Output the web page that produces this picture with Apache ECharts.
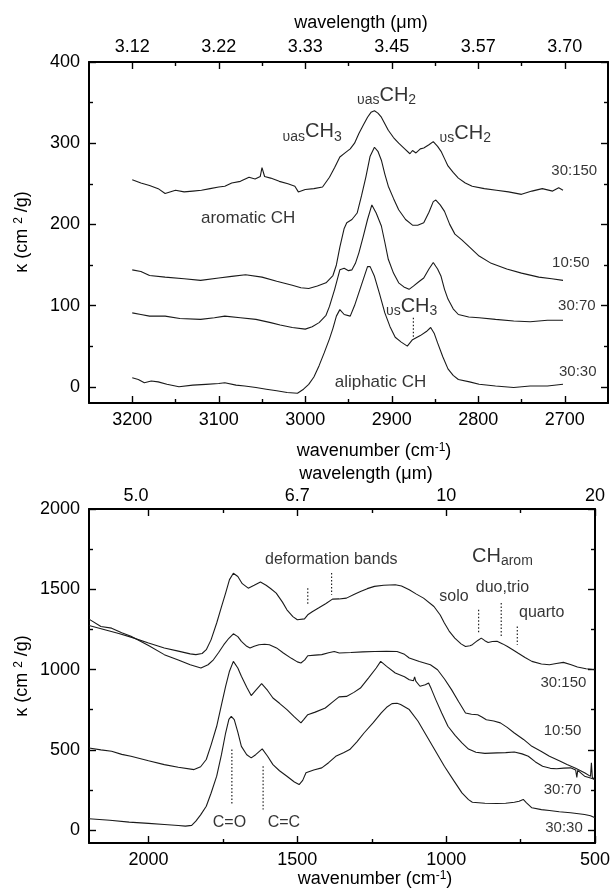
<!DOCTYPE html>
<html><head><meta charset="utf-8">
<script src="https://cdn.jsdelivr.net/npm/echarts@6/dist/echarts.min.js"></script>
<style>html,body{margin:0;padding:0;background:#fff}#c{width:613px;height:889px}</style>
</head><body><div id="c"></div>
<script>
// ---------------- DATA ----------------
// Top panel: wavenumber (cm-1) vs kappa (cm2/g)
const top_30_150 = [[3200,255],[3190,251],[3180,248],[3170,244],[3162,238],[3150,242],[3140,240],[3130,241],[3120,242],[3110,244],[3100,246],[3093,247],[3085,251],[3075,253],[3065,258],[3058,256],[3052,259],[3050,270],[3047,259],[3040,257],[3030,253],[3020,250],[3012,247],[3008,240],[3000,243],[2990,244],[2980,246],[2972,258],[2966,270],[2960,283],[2954,288],[2948,293],[2943,300],[2938,312],[2933,322],[2928,332],[2924,338],[2920,340],[2916,337],[2912,332],[2904,316],[2898,307],[2892,300],[2885,293],[2879,287],[2876,291],[2872,288],[2867,293],[2863,294],[2857,298],[2852,302],[2847,296],[2843,290],[2839,281],[2835,272],[2829,264],[2823,257],[2815,251],[2807,247],[2793,244],[2779,242],[2765,240],[2750,237],[2738,241],[2726,244],[2714,241],[2707,245],[2702,242]];
const top_10_50 = [[3200,144],[3190,142],[3180,137],[3162,135],[3140,133],[3121,131],[3100,134],[3085,136],[3069,138],[3050,135],[3033,130],[3015,125],[3005,122],[2996,121],[2986,124],[2976,128],[2968,137],[2964,150],[2960,172],[2955,195],[2952,202],[2946,206],[2940,214],[2935,235],[2930,258],[2925,284],[2920,295],[2916,290],[2912,279],[2908,262],[2904,247],[2898,232],[2892,218],[2884,206],[2876,199],[2870,199],[2863,202],[2857,215],[2852,228],[2849,230],[2844,224],[2839,216],[2833,200],[2827,188],[2819,181],[2810,172],[2799,161],[2785,152],[2767,145],[2750,140],[2730,135],[2715,133],[2702,131]];
const top_30_70 = [[3200,91],[3190,89],[3180,87],[3162,87],[3145,84],[3121,83],[3105,85],[3093,87],[3075,85],[3057,83],[3040,79],[3029,76],[3015,73],[3000,71],[2992,74],[2984,79],[2976,88],[2972,99],[2966,120],[2960,144],[2955,146],[2950,143],[2946,144],[2942,152],[2938,165],[2933,185],[2928,206],[2923,224],[2918,214],[2912,198],[2908,178],[2904,157],[2898,140],[2892,128],[2886,123],[2880,120],[2875,124],[2868,130],[2863,134],[2857,145],[2852,153],[2847,145],[2843,136],[2839,120],[2835,108],[2829,96],[2823,89],[2811,86],[2799,85],[2780,83],[2759,81],[2740,80],[2720,82],[2702,82]];
const top_30_30 = [[3200,11],[3193,9],[3186,5],[3178,7],[3170,6],[3160,3],[3146,0],[3130,2],[3115,3],[3100,4],[3093,5],[3080,2],[3070,1],[3057,-1],[3045,-3],[3033,-5],[3021,-7],[3009,-8],[3002,-3],[2996,3],[2990,12],[2984,26],[2978,42],[2972,59],[2968,72],[2964,87],[2960,95],[2955,89],[2948,87],[2943,100],[2938,116],[2933,132],[2928,148],[2925,148],[2920,136],[2914,114],[2908,91],[2902,74],[2896,61],[2889,55],[2882,50],[2876,58],[2867,63],[2860,68],[2855,73],[2851,66],[2847,54],[2841,37],[2835,22],[2829,14],[2823,9],[2810,6],[2799,3],[2780,1],[2759,-1],[2740,1],[2720,1],[2702,3]];

// Bottom panel
const bot_30_150 = [[2200,1275],[2150,1250],[2100,1225],[2059,1202],[2000,1165],[1947,1134],[1900,1115],[1860,1098],[1841,1093],[1820,1100],[1806,1124],[1790,1185],[1771,1290],[1755,1390],[1741,1476],[1728,1560],[1715,1600],[1700,1580],[1685,1535],[1665,1507],[1645,1525],[1624,1545],[1605,1525],[1590,1505],[1571,1476],[1550,1420],[1535,1372],[1515,1330],[1500,1310],[1476,1316],[1465,1341],[1450,1360],[1429,1383],[1405,1410],[1382,1439],[1360,1440],[1335,1445],[1310,1468],[1288,1486],[1265,1504],[1241,1518],[1210,1525],[1171,1528],[1150,1520],[1124,1497],[1100,1470],[1076,1445],[1041,1393],[1020,1340],[1006,1290],[990,1240],[971,1196],[950,1160],[935,1144],[920,1148],[912,1155],[895,1180],[882,1196],[870,1180],[859,1169],[845,1175],[829,1176],[810,1160],[794,1144],[775,1122],[759,1103],[735,1075],[712,1051],[680,1035],[653,1030],[630,1038],[606,1045],[580,1030],[559,1016],[530,1005],[500,999]];
const bot_10_50 = [[2200,1314],[2160,1268],[2124,1258],[2090,1230],[2059,1207],[2000,1150],[1947,1093],[1900,1060],[1860,1030],[1824,1010],[1800,1030],[1782,1061],[1765,1105],[1747,1155],[1730,1195],[1715,1223],[1700,1205],[1688,1176],[1670,1145],[1659,1134],[1645,1145],[1629,1155],[1610,1158],[1594,1155],[1570,1135],[1547,1103],[1520,1070],[1500,1048],[1488,1041],[1475,1060],[1465,1086],[1440,1090],[1418,1093],[1395,1105],[1376,1113],[1359,1103],[1320,1106],[1280,1110],[1241,1113],[1200,1114],[1165,1113],[1140,1095],[1124,1072],[1090,1050],[1053,1030],[1029,999],[1005,940],[982,875],[958,800],[935,730],[915,722],[894,719],[880,705],[865,688],[840,680],[818,668],[795,640],[771,605],[740,565],[712,522],[680,490],[653,460],[620,432],[594,409],[565,385],[535,357],[515,335],[512,420],[509,330],[500,311]];
const bot_30_70 = [[2200,512],[2160,500],[2124,491],[2090,472],[2059,460],[2000,432],[1947,408],[1900,392],[1847,377],[1825,395],[1806,440],[1790,530],[1771,647],[1755,780],[1741,896],[1728,990],[1715,1051],[1700,1010],[1688,958],[1670,890],[1655,838],[1640,870],[1620,912],[1600,870],[1582,823],[1560,790],[1535,751],[1510,705],[1488,668],[1478,690],[1465,719],[1440,735],[1406,761],[1380,800],[1360,830],[1335,833],[1310,858],[1288,885],[1260,950],[1235,1010],[1220,1051],[1200,1020],[1171,979],[1140,955],[1124,937],[1110,930],[1106,955],[1102,928],[1088,896],[1070,905],[1059,916],[1050,880],[1035,813],[1015,730],[994,647],[970,590],[947,543],[925,505],[900,485],[870,478],[829,481],[800,483],[771,487],[745,475],[724,460],[700,425],[676,398],[650,385],[629,382],[605,386],[582,388],[565,375],[561,328],[558,372],[535,336],[515,325],[500,315]];
const bot_30_30 = [[2200,71],[2130,62],[2065,50],[2000,42],[1947,35],[1900,29],[1876,25],[1855,30],[1841,56],[1825,95],[1806,149],[1790,230],[1771,336],[1755,470],[1741,605],[1730,690],[1722,709],[1712,688],[1700,610],[1688,522],[1670,470],[1655,450],[1640,470],[1618,506],[1600,460],[1582,408],[1560,370],[1535,336],[1510,300],[1494,284],[1482,310],[1471,357],[1445,375],[1418,388],[1395,420],[1371,460],[1345,482],[1324,502],[1300,550],[1276,605],[1245,670],[1218,730],[1200,765],[1182,788],[1165,790],[1153,782],[1124,751],[1095,680],[1065,585],[1035,490],[1006,398],[975,310],[947,232],[925,190],[912,174],[870,168],[829,166],[800,168],[771,174],[755,180],[741,191],[730,170],[712,139],[680,128],[653,122],[620,115],[582,108],[555,102],[535,97],[515,90],[500,77]];

// Axis ticks / labels
const topWnMajor = [3200,3100,3000,2900,2800,2700];
const topWnMinor = [3150,3050,2950,2850,2750];
const topWavelengthLabels = ['3.12','3.22','3.33','3.45','3.57','3.70'];
const topKappaMajor = [0,100,200,300,400];
const topKappaMinor = [50,150,250,350];
const botWnMajor = [2000,1500,1000,500];
const botWnMinor = [1750,1250,750];
const botWavelengthLabels = ['5.0','6.7','10','20'];
const botKappaMajor = [0,500,1000,1500,2000];
const botKappaMinor = [250,750,1250,1750];

// Annotations [wavenumber, kappa, text]
const topSampleLabels = [[2689,266,'30:150'],[2693,153,'10:50'],[2686,100,'30:70'],[2685,18,'30:30']];
const topBandLabels = [[2906,359,'{u|υas}{b|CH}{s|2}'],[2992,314,'{u|υas}{b|CH}{s|3}'],[2815,312,'{u|υs}{b|CH}{s|2}'],[2877,99,'{u|υs}{b|CH}{s|3}'],[3066,208,'{n|aromatic CH}'],[2913,6,'{n|aliphatic CH}']];
const topDotted = [[2875,85,61]];
const botSampleLabels = [[606,917,'30:150'],[609,616,'10:50'],[609,253,'30:70'],[604,15,'30:30']];
const botBandLabels = [[1386,1688,'{m|deformation bands}'],[811,1704,'{b|CH}{t|arom}'],[811,1510,'{m|duo,trio}'],[974,1455,'{m|solo}'],[679,1352,'{m|quarto}'],[1728,46,'{m|C=O}'],[1545,46,'{m|C=C}']];
const botDotted = [[1465,1507,1397],[1385,1601,1466],[891,1372,1227],[815,1414,1207],[761,1269,1155],[1720,502,160],[1615,398,129]];

// ---------------- CHART ----------------
const FONT = "'Liberation Sans', Arial, Helvetica, sans-serif";
const INK = '#000';
const chart = echarts.init(document.getElementById('c'), null, {renderer:'canvas'});

function axis(kind, gridIndex, position, min, max, ticks, len, labels, labelFmt, margin, extra) {
  const a = {
    type:'value', gridIndex, position, min, max,
    axisLine:{show: labels !== null || len === 7, onZero:false, lineStyle:{color:INK, width:2}},
    axisTick:{show:true, inside:true, length:len, customValues:ticks, lineStyle:{color:INK, width:1.4}},
    axisLabel: labels ? Object.assign({show:true, customValues:ticks, margin, color:INK, fontSize:18, fontFamily:FONT,
      formatter: labelFmt}, extra || {}) : {show:false},
    splitLine:{show:false}
  };
  if (kind === 'x') a.inverse = true;
  return a;
}
const idFmt = v => String(v);
const lookup = (keys, vals) => v => { const i = keys.indexOf(v); return i < 0 ? '' : vals[i]; };

const xAxes = [
  axis('x',0,'bottom',2650,3250,topWnMajor,7,true,idFmt,8),
  axis('x',0,'bottom',2650,3250,topWnMinor,4,null),
  axis('x',0,'top',2650,3250,topWnMajor,7,true,lookup(topWnMajor,topWavelengthLabels),6),
  axis('x',0,'top',2650,3250,topWnMinor,4,null),
  axis('x',1,'bottom',500,2200,botWnMajor,7,true,idFmt,8),
  axis('x',1,'bottom',500,2200,botWnMinor,4,null),
  axis('x',1,'top',500,2200,botWnMajor,7,true,lookup(botWnMajor,botWavelengthLabels),4,{alignMinLabel:'right'}),
  axis('x',1,'top',500,2200,botWnMinor,4,null)
];
const yAxes = [
  axis('y',0,'left',-20,400,topKappaMajor,7,true,idFmt,9),
  axis('y',0,'left',-20,400,topKappaMinor,4,null),
  axis('y',0,'right',-20,400,topKappaMajor,7,null),
  axis('y',0,'right',-20,400,topKappaMinor,4,null),
  axis('y',1,'left',-80,2000,botKappaMajor,7,true,idFmt,9),
  axis('y',1,'left',-80,2000,botKappaMinor,4,null),
  axis('y',1,'right',-80,2000,botKappaMajor,7,null),
  axis('y',1,'right',-80,2000,botKappaMinor,4,null)
];
// right major axes need the border line
yAxes[2].axisLine.show = true; yAxes[6].axisLine.show = true;
[1,3,5,7].forEach(i => { xAxes[i].axisLine.show = false; yAxes[i].axisLine.show = false; });

const RICH = {
  n:{fontSize:17, fontFamily:FONT, color:INK},
  m:{fontSize:16, fontFamily:FONT, color:INK},
  u:{fontSize:14, fontFamily:FONT, color:INK, verticalAlign:'bottom', lineHeight:15},
  b:{fontSize:20, fontFamily:FONT, color:INK, lineHeight:24},
  s:{fontSize:14, fontFamily:FONT, color:INK, verticalAlign:'bottom', lineHeight:11},
  t:{fontSize:14, fontFamily:FONT, color:INK, verticalAlign:'bottom', lineHeight:10}
};

function curve(data, xi) {
  return {type:'line', xAxisIndex:xi, yAxisIndex:xi, data, symbol:'none', smooth:false, silent:true,
    lineStyle:{color:'#1a1a1a', width:1.1}, z:3};
}
function labels(data, xi, fs) {
  return {type:'scatter', xAxisIndex:xi, yAxisIndex:xi, data, symbolSize:0, silent:true, z:5,
    label:{show:true, position:[0,0], align:'center', verticalAlign:'middle', color:INK,
      fontSize:fs, fontFamily:FONT, formatter:p => p.data[2], rich:RICH}};
}
function dotted(list, xi) {
  return list.map(d => ({type:'line', xAxisIndex:xi, yAxisIndex:xi, data:[[d[0],d[1]],[d[0],d[2]]],
    symbol:'none', silent:true, lineStyle:{color:'#222', width:1.2, type:[1.5,2]}, z:4}));
}

const series = [
  curve(top_30_150,0), curve(top_10_50,0), curve(top_30_70,0), curve(top_30_30,0),
  curve(bot_30_150,4), curve(bot_10_50,4), curve(bot_30_70,4), curve(bot_30_30,4),
  labels(topSampleLabels,0,15), labels(topBandLabels,0,17),
  labels(botSampleLabels,4,15), labels(botBandLabels,4,16),
  ...dotted(topDotted,0), ...dotted(botDotted,4)
];

function txt(x, y, text, rot) {
  return {type:'text', x, y, rotation: rot || 0, silent:true,
    style:{text, fill:INK, font:'18px '+FONT, align:'center', verticalAlign:'middle',
      rich:{ sup:{fontSize:12, fontFamily:FONT, fill:INK, verticalAlign:'top', lineHeight:12} }}};
}

chart.setOption({
  backgroundColor:'#fff',
  animation:false,
  grid:[{left:89, top:62, width:519, height:341}, {left:89, top:509, width:509, height:334}],
  xAxis:xAxes, yAxis:yAxes, series,
  graphic:[
    txt(361,23,'wavelength (μm)'),
    txt(374,451,'wavenumber (cm{sup|-1})'),
    txt(366,474,'wavelength (μm)'),
    txt(375,879,'wavenumber (cm{sup|-1})'),
    txt(22,232,'κ (cm {sup|2} /g)',Math.PI/2),
    txt(22,676,'κ (cm {sup|2} /g)',Math.PI/2)
  ]
});
</script></body></html>
